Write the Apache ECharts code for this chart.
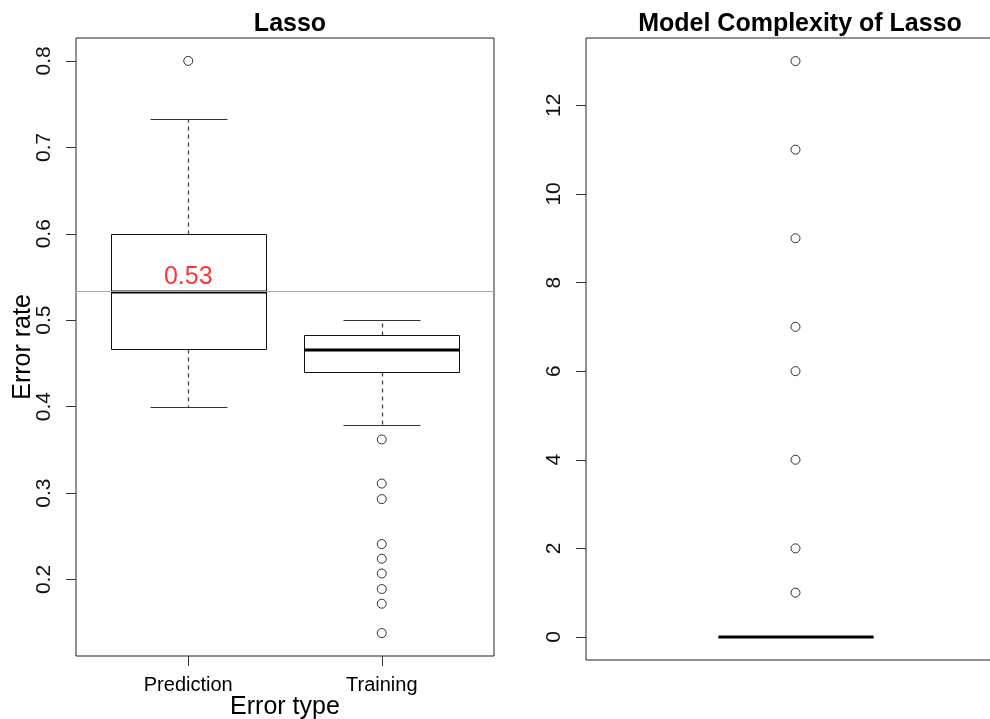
<!DOCTYPE html>
<html>
<head>
<meta charset="utf-8">
<script src="https://cdn.jsdelivr.net/npm/echarts@6/dist/echarts.min.js"></script>
<style>
  html, body { margin: 0; padding: 0; background: #fff; }
  #chart { width: 990px; height: 719px; }
</style>
</head>
<body>
<div id="chart"></div>
<script>
// ---- data ----
const categories = ['Prediction', 'Training'];
// [lower whisker, Q1, median, Q3, upper whisker]
const predictionStats = [0.400, 0.467, 0.533, 0.600, 0.733];
const trainingStats = [0.379, 0.440, 0.466, 0.483, 0.500];
const predictionOutliers = [0.800];
const trainingOutliers = [0.362, 0.311, 0.293, 0.241, 0.224, 0.207, 0.189, 0.172, 0.138];
const predictionMean = 0.534;
const errorTicks = [0.2, 0.3, 0.4, 0.5, 0.6, 0.7, 0.8];

const complexityStats = [0, 0, 0, 0, 0];
const complexityOutliers = [1, 2, 4, 6, 7, 9, 11, 13];
const complexityTicks = [0, 2, 4, 6, 8, 10, 12];

const FONT = '"Liberation Sans", Arial, Helvetica, sans-serif';

function renderBox(params, api) {
  const x = api.value(0);
  const lo = api.value(1), q1 = api.value(2), med = api.value(3), q3 = api.value(4), hi = api.value(5);
  const halfW = 0.4, capW = 0.2;
  const c = (xx, yy) => api.coord([xx, yy]);
  const a = c(x - halfW, q3), b = c(x + halfW, q1);
  const r = v => Math.round(v) + 0.5;
  const line = (p1, p2, extra) => Object.assign({
    type: 'line',
    shape: { x1: r(p1[0]), y1: r(p1[1]), x2: r(p2[0]), y2: r(p2[1]) },
    style: { stroke: '#111', lineWidth: 1 }
  }, extra || {});
  const mx = c(x, med);
  return {
    type: 'group',
    children: [
      line(c(x, q3), c(x, hi), { style: { stroke: '#444', lineWidth: 1.3, lineDash: [4, 4] } }),
      line(c(x, q1), c(x, lo), { style: { stroke: '#444', lineWidth: 1.3, lineDash: [4, 4] } }),
      line(c(x - capW, hi), c(x + capW, hi), { style: { stroke: '#333', lineWidth: 1 } }),
      line(c(x - capW, lo), c(x + capW, lo), { style: { stroke: '#333', lineWidth: 1 } }),
      {
        type: 'rect',
        shape: { x: r(a[0]), y: r(a[1]), width: Math.round(b[0] - a[0]), height: Math.round(b[1] - a[1]) },
        style: { fill: 'none', stroke: '#111', lineWidth: 1 }
      },
      {
        type: 'line',
        shape: { x1: r(a[0]), y1: Math.round(mx[1]), x2: r(b[0]), y2: Math.round(mx[1]) },
        style: { stroke: '#000', lineWidth: 3 }
      }
    ]
  };
}

const chart = echarts.init(document.getElementById('chart'), null, { renderer: 'canvas' });

const option = {
  animation: false,
  backgroundColor: '#fff',
  textStyle: { fontFamily: FONT },
  title: [
    { text: 'Lasso', left: 285, top: 7, textAlign: 'center',
      textStyle: { fontSize: 25, fontWeight: 'bold', color: '#000', fontFamily: FONT } },
    { text: 'Model Complexity of Lasso', left: 795, top: 7, textAlign: 'center',
      textStyle: { fontSize: 25, fontWeight: 'bold', color: '#000', fontFamily: FONT } }
  ],
  grid: [
    { left: 76, top: 38, width: 418, height: 618, show: true, borderColor: '#222', borderWidth: 1,
      backgroundColor: 'transparent', containLabel: false, outerBoundsMode: 'none' },
    { left: 586, top: 38, width: 419, height: 622, show: true, borderColor: '#222', borderWidth: 1,
      backgroundColor: 'transparent', containLabel: false, outerBoundsMode: 'none' }
  ],
  xAxis: [
    {
      type: 'value', gridIndex: 0, min: 0.42, max: 2.58,
      splitLine: { show: false }, axisLine: { show: false, onZero: false },
      axisTick: { show: true, customValues: [1, 2], length: 10, lineStyle: { color: '#333' } },
      axisLabel: { customValues: [1, 2], formatter: v => categories[Math.round(v) - 1],
        fontSize: 20, margin: 19, color: '#000', fontFamily: FONT },
      name: 'Error type', nameLocation: 'middle', nameGap: 39, nameMoveOverlap: false,
      nameTextStyle: { fontSize: 25, color: '#000', fontFamily: FONT }
    },
    {
      type: 'value', gridIndex: 1, min: -0.08, max: 2.08,
      splitLine: { show: false }, axisLine: { show: false, onZero: false },
      axisTick: { show: false }, axisLabel: { show: false }
    }
  ],
  yAxis: [
    {
      type: 'value', gridIndex: 0, min: 0.1115, max: 0.8265,
      splitLine: { show: false }, axisLine: { show: false, onZero: false },
      axisTick: { show: true, customValues: errorTicks, length: 10, lineStyle: { color: '#333' } },
      axisLabel: { customValues: errorTicks, rotate: 90, fontSize: 21, margin: 21, color: '#111',
        formatter: v => String(v), fontFamily: FONT },
      name: 'Error rate', nameLocation: 'middle', nameGap: 40, nameRotate: 90, nameMoveOverlap: false,
      nameTextStyle: { fontSize: 25, color: '#000', fontFamily: FONT }
    },
    {
      type: 'value', gridIndex: 1, min: -0.52, max: 13.52,
      splitLine: { show: false }, axisLine: { show: false, onZero: false },
      axisTick: { show: true, customValues: complexityTicks, length: 10, lineStyle: { color: '#333' } },
      axisLabel: { customValues: complexityTicks, rotate: 90, fontSize: 21, margin: 21, color: '#111',
        formatter: v => String(v), fontFamily: FONT }
    }
  ],
  series: [
    {
      type: 'custom', xAxisIndex: 0, yAxisIndex: 0, renderItem: renderBox,
      data: [[1].concat(predictionStats), [2].concat(trainingStats)],
      z: 3,
      markLine: {
        silent: true, symbol: 'none', precision: 4,
        lineStyle: { color: '#aaa', type: 'solid', width: 1 },
        label: { show: false },
        data: [{ yAxis: predictionMean }]
      }
    },
    {
      type: 'scatter', xAxisIndex: 0, yAxisIndex: 0,
      symbol: 'circle', symbolSize: 9,
      itemStyle: { color: 'rgba(0,0,0,0)', borderColor: '#000', borderWidth: 1 },
      data: predictionOutliers.map(v => [1, v]).concat(trainingOutliers.map(v => [2, v]))
    },
    {
      type: 'scatter', xAxisIndex: 0, yAxisIndex: 0, symbolSize: 0, z: 5,
      data: [[1, predictionMean]],
      label: { show: true, position: 'top', distance: 1, formatter: predictionMean.toFixed(2),
        color: '#ff0000', fontSize: 25, fontFamily: FONT }
    },
    {
      type: 'custom', xAxisIndex: 1, yAxisIndex: 1, renderItem: renderBox,
      data: [[1].concat(complexityStats)], z: 3
    },
    {
      type: 'scatter', xAxisIndex: 1, yAxisIndex: 1,
      symbol: 'circle', symbolSize: 9,
      itemStyle: { color: 'rgba(0,0,0,0)', borderColor: '#000', borderWidth: 1 },
      data: complexityOutliers.map(v => [1, v])
    }
  ]
};
chart.setOption(option);
</script>
</body>
</html>
